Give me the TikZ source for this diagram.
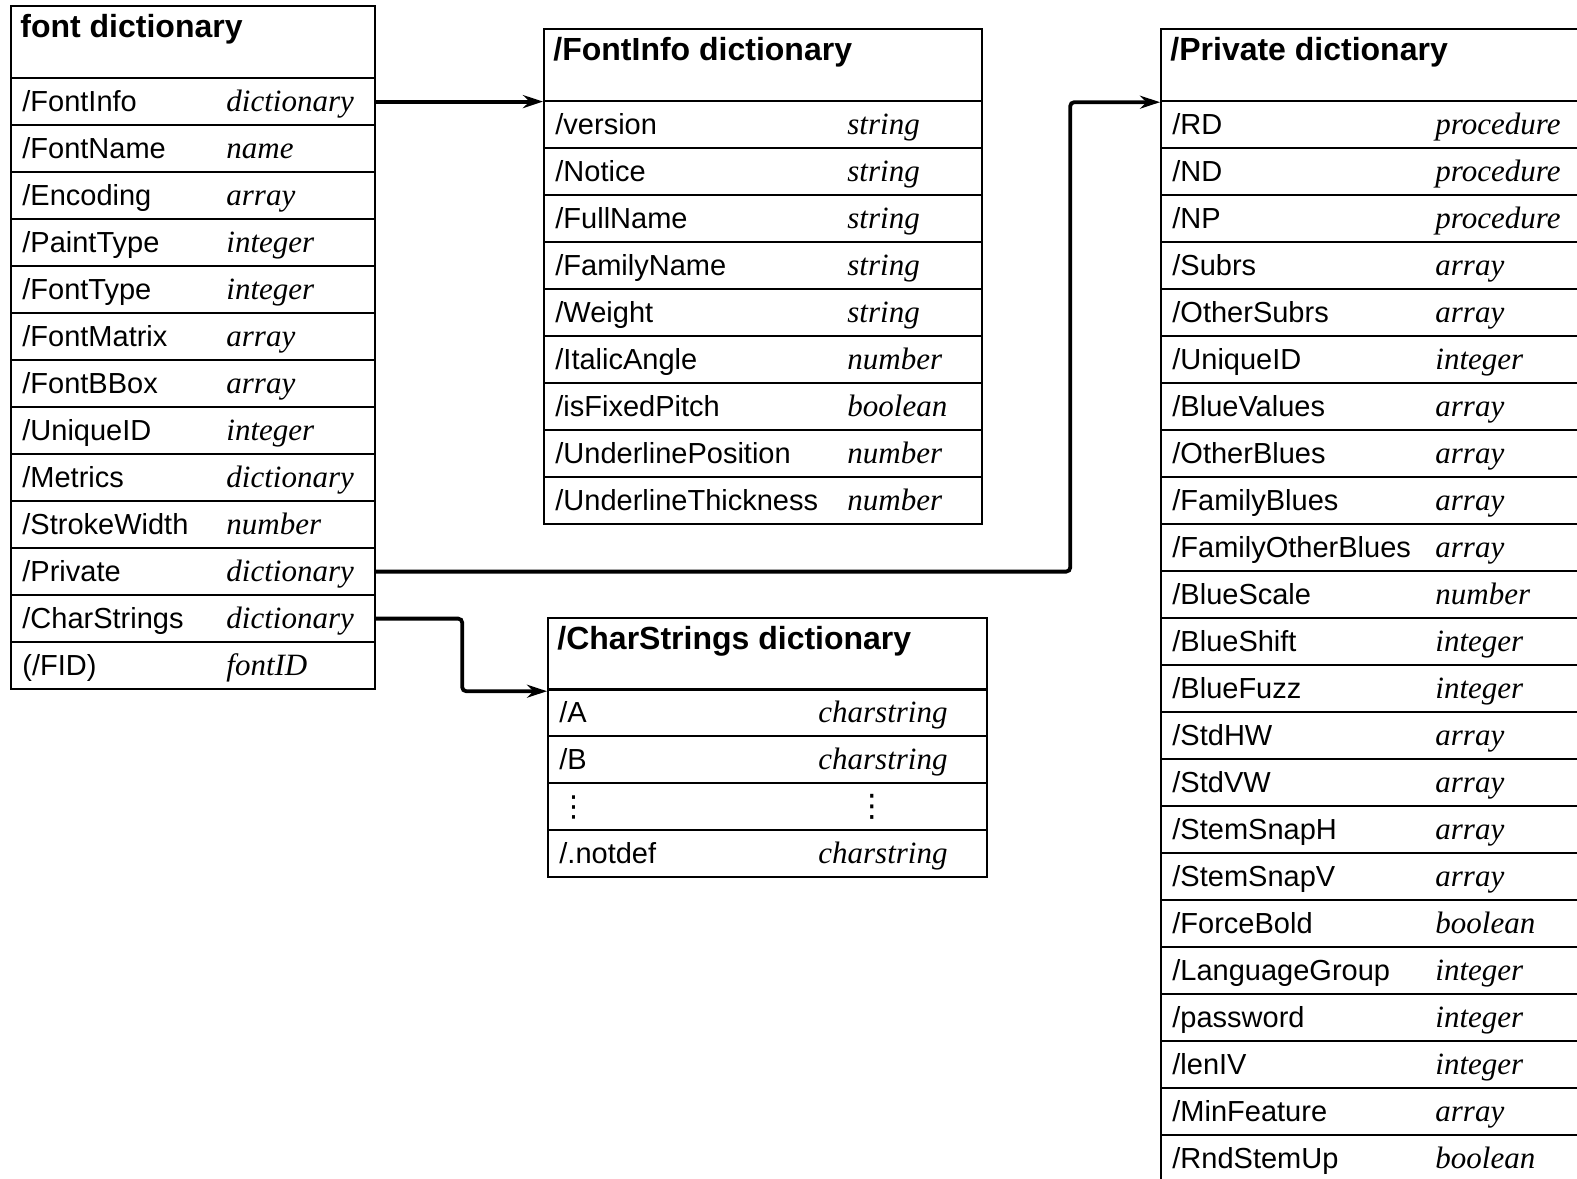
\documentclass[tikz,border=0pt]{standalone}
\usepackage{fontspec}
\setmainfont{Liberation Sans}
\newfontfamily\kindfont{Liberation Serif}
\newfontfamily\dotsfont{DejaVu Sans}
\usetikzlibrary{arrows.meta}

\tikzset{
  dictbox/.style={draw, line width=1.1pt, inner sep=0pt, anchor=north west,
    minimum height=23.5pt},
  dicthead/.style={dictbox, minimum height=36pt},
  dicttitle/.style={anchor=base west, inner sep=0pt,
    font=\fontsize{16}{18}\selectfont\bfseries},
  dictkey/.style={anchor=base west, inner sep=0pt,
    font=\fontsize{14.5}{17}\selectfont},
  dictkind/.style={anchor=base west, inner sep=0pt,
    font=\kindfont\itshape\fontsize{15.5}{17}\selectfont},
  dictlink/.style={line width=1.9pt, rounded corners=2pt,
    -{Stealth[length=10pt,width=6.5pt]}}
}

\begin{document}
\begin{tikzpicture}[x=0.5pt,y=-0.5pt]
  \useasboundingbox (0,0) rectangle (1577,1178);
  \clip (0,0) rectangle (1577,1178);

  % font dictionary
  \node[dicthead, minimum width=182pt] (fdhead) at (10,5) {};
  \node[dicttitle] (fdtitle) at ([shift={(5pt,-16pt)}]fdhead.north west) {font dictionary};
  \foreach \name/\kind [count=\i] in {{/FontInfo}/dictionary, {/FontName}/name,
      {/Encoding}/array, {/PaintType}/integer, {/FontType}/integer,
      {/FontMatrix}/array, {/FontBBox}/array, {/UniqueID}/integer,
      {/Metrics}/dictionary, {/StrokeWidth}/number, {/Private}/dictionary,
      {/CharStrings}/dictionary, {(/FID)}/fontID} {
    \pgfmathsetmacro\y{77+(\i-1)*47}
    \node[dictbox, minimum width=182pt] (fd\i) at (10,\y) {};
    \node[dictkey] (fdkey\i) at ([shift={(6pt,-5pt)}]fd\i.west) {\name};
    \node[dictkind] (fdkind\i) at ([shift={(108pt,-5pt)}]fd\i.west) {\kind};
  }

  % FontInfo dictionary
  \node[dicthead, minimum width=219pt] (fihead) at (543,28) {};
  \node[dicttitle] (fititle) at ([shift={(5pt,-16pt)}]fihead.north west) {/FontInfo dictionary};
  \foreach \name/\kind [count=\i] in {{/version}/string, {/Notice}/string,
      {/FullName}/string, {/FamilyName}/string, {/Weight}/string,
      {/ItalicAngle}/number, {/isFixedPitch}/boolean,
      {/UnderlinePosition}/number, {/UnderlineThickness}/number} {
    \pgfmathsetmacro\y{100+(\i-1)*47}
    \node[dictbox, minimum width=219pt] (fi\i) at (543,\y) {};
    \node[dictkey] (fikey\i) at ([shift={(6pt,-5pt)}]fi\i.west) {\name};
    \node[dictkind] (fikind\i) at ([shift={(152pt,-5pt)}]fi\i.west) {\kind};
  }

  % CharStrings dictionary
  \node[dicthead, minimum width=219.5pt] (cshead) at (547,617) {};
  \node[dicttitle] (cstitle) at ([shift={(5pt,-16pt)}]cshead.north west) {/CharStrings dictionary};
  \foreach \name/\kind [count=\i] in {{/A}/charstring, {/B}/charstring,
      {\dotsfont ⋮}/{\hspace{19pt}\dotsfont ⋮}, {/.notdef}/charstring} {
    \pgfmathsetmacro\y{688+(\i-1)*47}
    \node[dictbox, minimum width=219.5pt] (cs\i) at (547,\y) {};
    \node[dictkey] (cskey\i) at ([shift={(6pt,-5pt)}]cs\i.west) {\name};
    \node[dictkind] (cskind\i) at ([shift={(135.5pt,-5pt)}]cs\i.west) {\kind};
  }

  % Private dictionary
  \node[dicthead, minimum width=220pt] (pvhead) at (1160,28) {};
  \node[dicttitle] (pvtitle) at ([shift={(5pt,-16pt)}]pvhead.north west) {/Private dictionary};
  \foreach \name/\kind [count=\i] in {{/RD}/procedure, {/ND}/procedure,
      {/NP}/procedure, {/Subrs}/array, {/OtherSubrs}/array,
      {/UniqueID}/integer, {/BlueValues}/array, {/OtherBlues}/array,
      {/FamilyBlues}/array, {/FamilyOtherBlues}/array, {/BlueScale}/number,
      {/BlueShift}/integer, {/BlueFuzz}/integer, {/StdHW}/array,
      {/StdVW}/array, {/StemSnapH}/array, {/StemSnapV}/array,
      {/ForceBold}/boolean, {/LanguageGroup}/integer, {/password}/integer,
      {/lenIV}/integer, {/MinFeature}/array, {/RndStemUp}/boolean} {
    \pgfmathsetmacro\y{100+(\i-1)*47}
    \node[dictbox, minimum width=220pt] (pv\i) at (1160,\y) {};
    \node[dictkey] (pvkey\i) at ([shift={(6pt,-5pt)}]pv\i.west) {\name};
    \node[dictkind] (pvkind\i) at ([shift={(137.5pt,-5pt)}]pv\i.west) {\kind};
  }

  % Links from the font dictionary
  \draw[dictlink] (fd1.east) -- (fd1.east -| fihead.west);
  \draw[dictlink] (fd11.east) -- ++(694,0) |- (pvhead.south west);
  \draw[dictlink] (fd12.east) -- ++(86,0) |- (cshead.south west);

\end{tikzpicture}
\end{document}
